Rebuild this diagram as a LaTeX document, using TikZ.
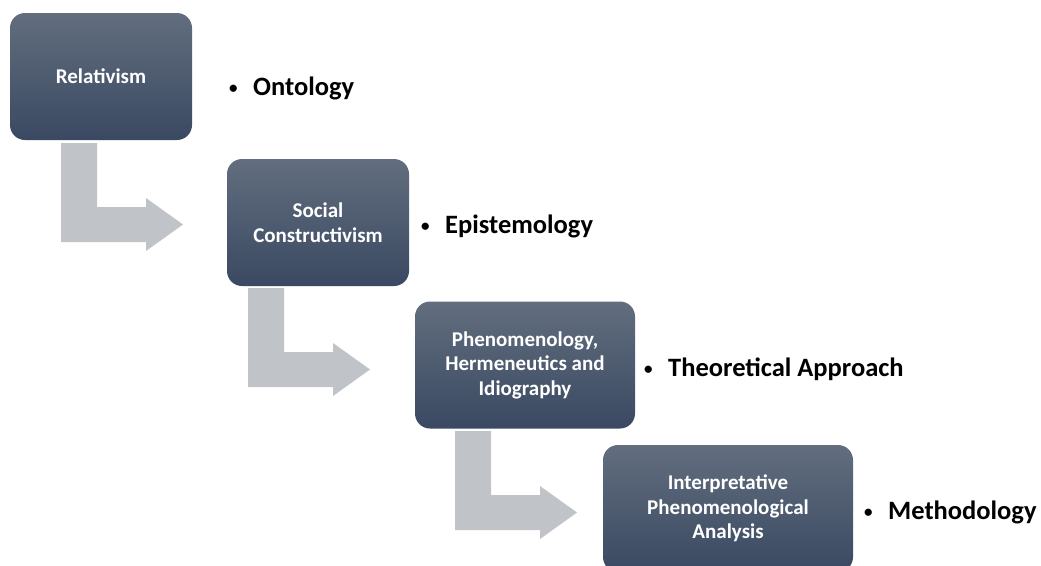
\documentclass[tikz,border=0pt]{standalone}
\usepackage{fontspec}
\setmainfont{Carlito}
\usetikzlibrary{positioning}

\definecolor{boxtop}{RGB}{98,110,126}
\definecolor{boxbot}{RGB}{58,73,98}
\definecolor{arrowgray}{RGB}{192,195,200}

\newcommand{\lvlbullet}{\makebox[24pt][l]{\raisebox{1.5pt}{\fontsize{17}{17}\selectfont\textbullet}}}

\begin{document}
\begin{tikzpicture}[
  x=1pt, y=-1pt,
  box/.style={rounded corners=15pt, top color=boxtop, bottom color=boxbot,
              draw=none, align=center, inner sep=2pt, text=white,
              font=\bfseries\fontsize{21}{24.5}\selectfont,
              minimum width=182pt, minimum height=127pt},
  lbl/.style={anchor=base west, inner sep=0pt, font=\bfseries\fontsize{26.5}{30}\selectfont},
  bent/.style={fill=arrowgray, draw=none}
]
\clip (0,0) rectangle (1041,565);

% bent arrows between the steps
\foreach \ax/\ay in {61/143, 248/288, 455/431}
  \fill[bent, shift={(\ax,\ay)}]
    (0,0) -- (36,0) -- (36,64) -- (85,64) -- (85,55) -- (122,81.5)
    -- (85,108) -- (85,99) -- (0,99) -- cycle;

% steps
\node[box] (rel) at (101,76.5) {Relativism};
\node[box] (soc) at (318,222.5) {Social\\Constructivism};
\node[box, minimum width=220pt] (phe) at (525,365) {Phenomenology,\\Hermeneutics and\\Idiography};
\node[box, minimum width=250pt] (ipa) at (728,508.5) {Interpretative\\Phenomenological\\Analysis};

% levels
\node[lbl] (ont) at (229,95)  {\lvlbullet Ontology};
\node[lbl] (epi) at (421,233) {\lvlbullet Epistemology};
\node[lbl] (the) at (644,376) {\lvlbullet Theoretical Approach};
\node[lbl] (met) at (864,519) {\lvlbullet Methodology};
\end{tikzpicture}
\end{document}
